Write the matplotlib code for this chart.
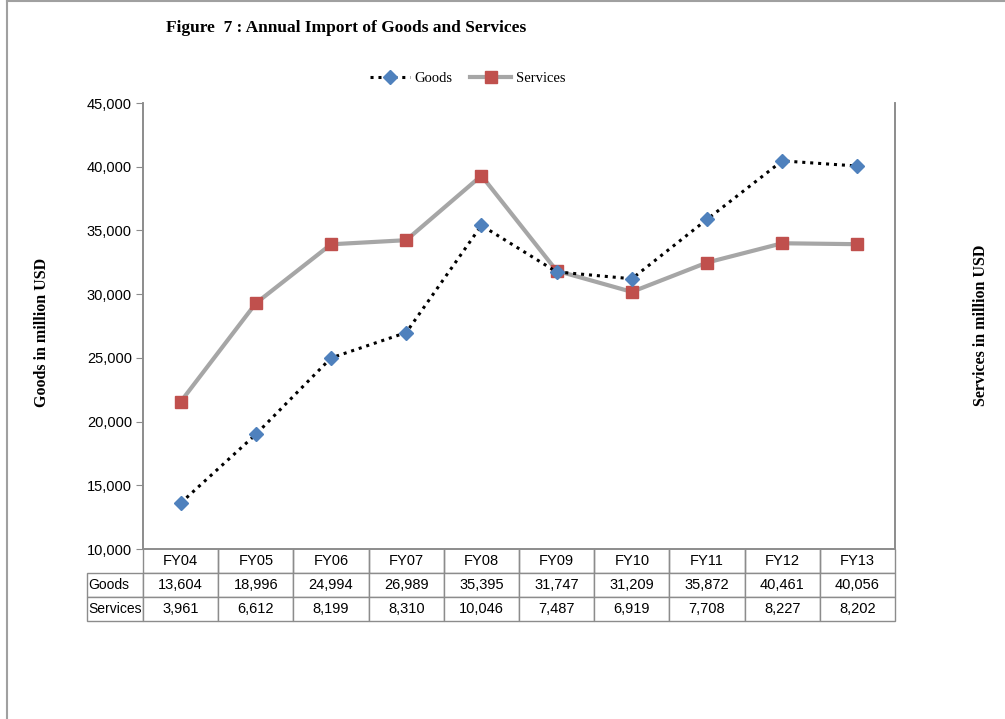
import matplotlib.pyplot as plt
from matplotlib.ticker import FuncFormatter
from matplotlib.lines import Line2D

years = ['FY04', 'FY05', 'FY06', 'FY07', 'FY08', 'FY09', 'FY10', 'FY11', 'FY12', 'FY13']
goods = [13604, 18996, 24994, 26989, 35395, 31747, 31209, 35872, 40461, 40056]
services = [3961, 6612, 8199, 8310, 10046, 7487, 6919, 7708, 8227, 8202]
goods_ticks = [10000, 15000, 20000, 25000, 30000, 35000, 40000, 45000]

sans = ['Liberation Sans', 'DejaVu Sans']
serif = ['Liberation Serif', 'DejaVu Serif']

fig = plt.figure(figsize=(10.05, 7.19), dpi=100)
# page border (top and left only)
fig.lines.append(Line2D([0.007, 1.0], [0.998, 0.998], transform=fig.transFigure,
                        color='#a0a0a0', linewidth=1.5))
fig.lines.append(Line2D([0.007, 0.007], [0.0, 0.998], transform=fig.transFigure,
                        color='#a0a0a0', linewidth=1.5))

ax = fig.add_axes([0.1423, 0.2364, 0.7483, 0.6203])
ax2 = ax.twinx()

x = range(len(years))
ax2.plot(x, services, color='#a6a6a6', linewidth=3, marker='s', markersize=9,
         markerfacecolor='#c0504d', markeredgecolor='#c0504d', label='Services', zorder=2)
ax.plot(x, goods, color='black', linestyle=(0, (1, 1.6)), linewidth=2.2, marker='D',
        markersize=7, markerfacecolor='#4f81bd', markeredgecolor='#4f81bd', label='Goods', zorder=3)

ax.set_zorder(ax2.get_zorder() + 1)
ax.patch.set_visible(False)

ax.set_xlim(-0.5, len(years) - 0.5)
ax.set_ylim(10000, 45000)
ax2.set_ylim(0, 12000)
ax.set_yticks(goods_ticks)
ax.yaxis.set_major_formatter(FuncFormatter(lambda v, p: f'{int(v):,}'))
ax.tick_params(axis='y', direction='out', length=5, color='#8c8c8c', labelsize=10.5, pad=3)
for lab in ax.get_yticklabels():
    lab.set_family(sans)
ax.set_xticks([])
ax2.set_yticks([])

for a in (ax, ax2):
    a.spines['top'].set_visible(False)
    for s in ('left', 'right', 'bottom'):
        a.spines[s].set_color('#8c8c8c')
        a.spines[s].set_linewidth(1.2)

# data table under the axes
cells = [[''] + years, ['Goods'] + [f'{v:,}' for v in goods], ['Services'] + [f'{v:,}' for v in services]]
lab_w = 56 / 752
col_w = [lab_w] + [1.0 / len(years)] * len(years)
tbl = ax.table(cellText=cells, colWidths=col_w, cellLoc='center',
               bbox=[-lab_w, -72 / 446, 1 + lab_w, 72 / 446])
tbl.auto_set_font_size(False)
for (r, c), cell in tbl.get_celld().items():
    cell.set_edgecolor('#8c8c8c')
    cell.set_linewidth(1.0)
    cell.get_text().set_fontsize(10.5)
    cell.get_text().set_family(sans)
    if r == 0 and c == 0:
        cell.visible_edges = ''
    elif r == 0:
        cell.visible_edges = 'LRB'
    if c == 0 and r > 0:
        cell.get_text().set_ha('left')
        cell.get_text().set_fontsize(10)
        cell.PAD = 0.03

fig.text(0.165, 0.961, 'Figure  7 : Annual Import of Goods and Services', family=serif,
         fontweight='bold', fontsize=12.5, ha='left', va='center')
fig.text(0.042, 0.538, 'Goods in million USD', family=serif, fontweight='bold', fontsize=11.5,
         rotation=90, ha='center', va='center')
fig.text(0.976, 0.547, 'Services in million USD', family=serif, fontweight='bold', fontsize=11.5,
         rotation=90, ha='center', va='center')

h1, l1 = ax.get_legend_handles_labels()
h2, l2 = ax2.get_legend_handles_labels()
fig.legend(h1 + h2, l1 + l2, loc='center', bbox_to_anchor=(0.465, 0.891), ncol=2,
           frameon=False, prop={'family': serif, 'size': 10.5}, handlelength=2.8,
           columnspacing=1.2, handletextpad=0.3)

fig.savefig('out.png', dpi=100)
